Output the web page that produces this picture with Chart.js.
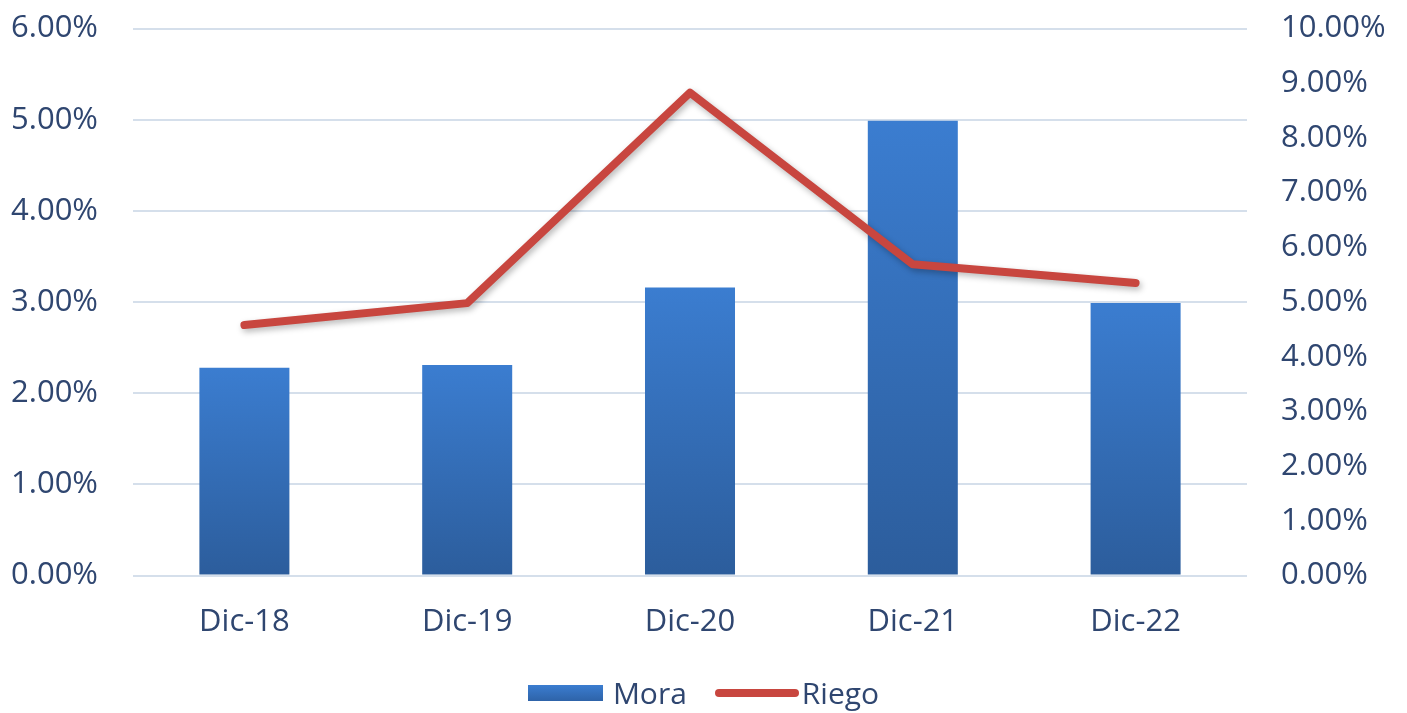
<!DOCTYPE html>
<html>
<head>
<meta charset="utf-8">
<script src="https://cdn.jsdelivr.net/npm/chart.js@4.4.0/dist/chart.umd.min.js"></script>
<style>
  html, body { margin: 0; padding: 0; background: #fff; overflow: hidden; }
  .wrap { position: relative; width: 1407px; height: 713px; overflow: hidden; }
  canvas { position: absolute; left: 0; top: -25px; }
  .legend { position: absolute; top: 672px; left: 0; width: 1407px; display: flex; justify-content: center; align-items: center;
            font-family: "Open Sans", sans-serif; font-size: 30px; color: #2f4670; }
  .legend .item { display: flex; align-items: center; margin: 0 14px; }
  .legend .box { width: 75px; height: 16px; background: linear-gradient(#3b7dd0, #2e63a8); margin-right: 10px; }
  .legend .ln { width: 84px; height: 8px; border-radius: 4px; background: #c8463f; margin-right: 3px; }
</style>
</head>
<body>
<div class="wrap">
  <canvas id="c" width="1407" height="738"></canvas>
  <div class="legend">
    <div class="item"><span class="box"></span>Mora</div>
    <div class="item"><span class="ln"></span>Riego</div>
  </div>
</div>
<script>
const categories = ['Dic-18', 'Dic-19', 'Dic-20', 'Dic-21', 'Dic-22'];
const mora = [2.28, 2.31, 3.16, 4.99, 2.99];
const riego = [4.58, 4.98, 8.83, 5.69, 5.35];
const leftTicks = [0, 1, 2, 3, 4, 5, 6];
const rightTicks = [0, 1, 2, 3, 4, 5, 6, 7, 8, 9, 10];

const textColor = '#2f4670';
const gridColor = '#d5dfeb';
const font = { family: '"Open Sans", sans-serif', size: 31 };

// per-bar vertical gradient
function barFill(ctx) {
  const chart = ctx.chart;
  const y = chart.scales.y;
  if (!y || ctx.dataIndex == null) return '#3571bd';
  const top = y.getPixelForValue(mora[ctx.dataIndex]);
  const base = y.getPixelForValue(0);
  if (!isFinite(top) || !isFinite(base)) return '#3571bd';
  const g = chart.ctx.createLinearGradient(0, top, 0, base);
  g.addColorStop(0, '#3b7dd0');
  g.addColorStop(1, '#2c5d9c');
  return g;
}

const lineShadow = {
  id: 'lineShadow',
  beforeDatasetDraw(chart, args) {
    if (args.index !== 1) return;
    const c = chart.ctx;
    c.save();
    c.shadowColor = 'rgba(0,0,0,0.28)';
    c.shadowBlur = 6;
    c.shadowOffsetX = 2;
    c.shadowOffsetY = 3;
  },
  afterDatasetDraw(chart, args) {
    if (args.index !== 1) return;
    chart.ctx.restore();
  }
};

new Chart(document.getElementById('c'), {
  data: {
    labels: categories,
    datasets: [
      {
        type: 'bar',
        label: 'Mora',
        data: mora,
        yAxisID: 'y',
        backgroundColor: barFill,
        borderWidth: 0,
        categoryPercentage: 0.404,
        barPercentage: 1,
        order: 2
      },
      {
        type: 'line',
        label: 'Riego',
        data: riego,
        yAxisID: 'y1',
        borderColor: '#c8463f',
        borderWidth: 8,
        borderCapStyle: 'round',
        borderJoinStyle: 'round',
        pointRadius: 0,
        tension: 0,
        order: 1
      }
    ]
  },
  options: {
    responsive: false,
    animation: false,
    layout: { padding: { top: 3, left: 0, right: 0, bottom: 0 } },
    plugins: { legend: { display: false }, tooltip: { enabled: false } },
    scales: {
      x: {
        grid: { display: false, drawTicks: false },
        border: { display: false },
        ticks: { color: textColor, font, padding: 28 },
        afterFit(s) { s.height = 137.5; }
      },
      y: {
        position: 'left',
        min: 0, max: 6,
        afterBuildTicks(s) { s.ticks = leftTicks.map(v => ({ value: v })); },
        grid: { color: gridColor, lineWidth: 2, drawTicks: false },
        border: { display: false },
        ticks: { color: textColor, font, padding: 35, callback: v => v.toFixed(2) + '%' },
        afterFit(s) { s.width = 133; }
      },
      y1: {
        position: 'right',
        min: 0, max: 10,
        afterBuildTicks(s) { s.ticks = rightTicks.map(v => ({ value: v })); },
        grid: { display: false, drawTicks: false },
        border: { display: false },
        ticks: { color: textColor, font, padding: 34, callback: v => v.toFixed(2) + '%' },
        afterFit(s) { s.width = 1407 - 1247; }
      }
    }
  },
  plugins: [lineShadow]
});
</script>
</body>
</html>
